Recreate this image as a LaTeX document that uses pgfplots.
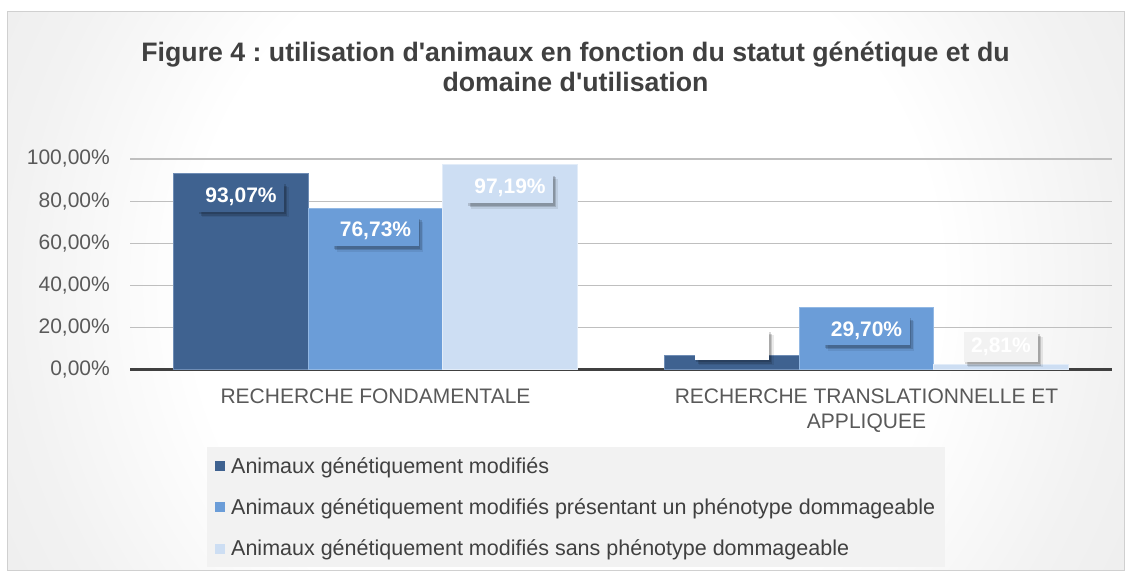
\documentclass[border=0pt]{standalone}
\usepackage{pgfplots}
\pgfplotsset{compat=1.18}
\usepackage{fontspec}
\setmainfont{Liberation Sans}
\usetikzlibrary{shadows}
\frenchspacing
\definecolor{sA}{HTML}{3F6290}
\definecolor{sAedge}{HTML}{6F8DB5}
\definecolor{sB}{HTML}{6B9DD8}
\definecolor{sBedge}{HTML}{92B8E4}
\definecolor{sC}{HTML}{CDDEF3}
\definecolor{sCedge}{HTML}{E2ECF8}
\definecolor{gridcol}{HTML}{BFBFBF}
\definecolor{axiscol}{HTML}{404040}
\definecolor{tickcol}{HTML}{595959}
\definecolor{titlecol}{HTML}{404040}
\definecolor{legfill}{HTML}{F2F2F2}
\definecolor{bordercol}{HTML}{D0D0D0}
\definecolor{bgmid}{HTML}{F2F2F2}
\definecolor{bgout}{HTML}{D9D9D9}
\definecolor{bgcorner}{HTML}{CCCCCC}
\pgfdeclareradialshading{bgshade}{\pgfpoint{0bp}{0bp}}{color(0bp)=(white); color(15bp)=(white); color(22bp)=(bgmid); color(45bp)=(bgout); color(50bp)=(bgcorner); color(72bp)=(bgcorner)}
\begin{document}
\begin{tikzpicture}[x=1pt,y=1pt]
\fill[white] (0,0) rectangle (1131,572);
\begin{scope}
\clip (7,1) rectangle (1124,560);
\shade[shading=bgshade] (-60,-339) rectangle (1190,911);
\end{scope}
\draw[bordercol, line width=1pt] (7,1) rectangle (1124,560);
\node[font=\fontsize{26.7}{30}\selectfont\bfseries, text=titlecol, align=center] at (575.5,505) {Figure 4 : utilisation d\textquotesingle animaux en fonction du statut génétique et du\\domaine d\textquotesingle utilisation};
\begin{axis}[
  at={(130pt,202pt)}, anchor=south west,
  scale only axis, width=982pt, height=211pt,
  xmin=-0.5, xmax=1.5, ymin=0, ymax=100,
  enlargelimits=false,
  ybar=0pt, bar width=134.5pt,
  xtick={0,1},
  xticklabels={RECHERCHE FONDAMENTALE, {RECHERCHE TRANSLATIONNELLE ET\\APPLIQUEE}},
  ytick={0,20,40,60,80,100},
  yticklabels={{0,00\%},{20,00\%},{40,00\%},{60,00\%},{80,00\%},{100,00\%}},
  major tick length=0pt,
  ymajorgrids, grid style={gridcol, line width=1.3pt},
  axis x line*=bottom, axis y line*=left,
  y axis line style={draw=none},
  x axis line style={axiscol, line width=3pt},
  yticklabel style={font=\fontsize{21}{25}\selectfont, text=tickcol, inner sep=0pt, anchor=east, xshift=-20pt},
  xticklabel style={font=\fontsize{21}{25}\selectfont, text=tickcol, inner sep=0pt, anchor=north, align=center, yshift=-19pt},
  legend style={at={(0.0784,-0.365)}, anchor=north west, draw=none, fill=legfill,
    font=\fontsize{21.5}{25}\selectfont, text=axiscol, row sep=20pt, inner xsep=8pt, inner ysep=8pt,
    /tikz/every odd column/.append style={column sep=4pt}},
  legend cell align=left,
  legend image code/.code={\fill[#1,draw=none] (0pt,-5pt) rectangle (10pt,5pt);},
  lbl/.style={forget plot, draw=none, fill=none, nodes near coords, point meta=explicit symbolic,
     nodes near coords align={anchor=north},
     every node near coord/.append style={font=\fontsize{21}{25}\selectfont\bfseries, text=white,
       inner xsep=7.5pt, inner ysep=6pt, yshift=-8pt,
       drop shadow={shadow xshift=4.5pt, shadow yshift=-5.5pt, fill=black, opacity=0.08},
       drop shadow={shadow xshift=3pt, shadow yshift=-4pt, fill=black, opacity=0.15},
       drop shadow={shadow xshift=1.5pt, shadow yshift=-2.5pt, fill=black, opacity=0.15}}},
]
% bars
\addplot[fill=sA, draw=sAedge, line width=1pt, bar shift=-134.5pt]
  coordinates {(0,93.07) (1,6.93)};
\addplot[fill=sB, draw=sBedge, line width=1pt, bar shift=0pt]
  coordinates {(0,76.73) (1,29.70)};
\addplot[fill=sC, draw=sCedge, line width=1pt, bar shift=134.5pt]
  coordinates {(0,97.19) (1,2.81)};
% data labels
\addplot[lbl, bar shift=-134.5pt, every node near coord/.append style={fill=sA}]
  coordinates {(0,93.07) [93,07\%]};
\addplot[lbl, bar shift=-134.5pt, nodes near coords align={anchor=south},
  every node near coord/.append style={fill=white, yshift=3.4pt}]
  coordinates {(1,6.93) [6,93\%]};
\addplot[lbl, bar shift=0pt, every node near coord/.append style={fill=sB}]
  coordinates {(0,76.73) [76,73\%] (1,29.70) [29,70\%]};
\addplot[lbl, bar shift=134.5pt, every node near coord/.append style={fill=sC}]
  coordinates {(0,97.19) [97,19\%]};
\addplot[lbl, bar shift=134.5pt, nodes near coords align={anchor=south},
  every node near coord/.append style={fill=legfill, yshift=10pt}]
  coordinates {(1,2.81) [2,81\%]};
\legend{Animaux génétiquement modifiés,Animaux génétiquement modifiés présentant un phénotype dommageable,Animaux génétiquement modifiés sans phénotype dommageable}
\end{axis}
\pgfresetboundingbox
\useasboundingbox (0,0) rectangle (1131,572);
\end{tikzpicture}
\end{document}
